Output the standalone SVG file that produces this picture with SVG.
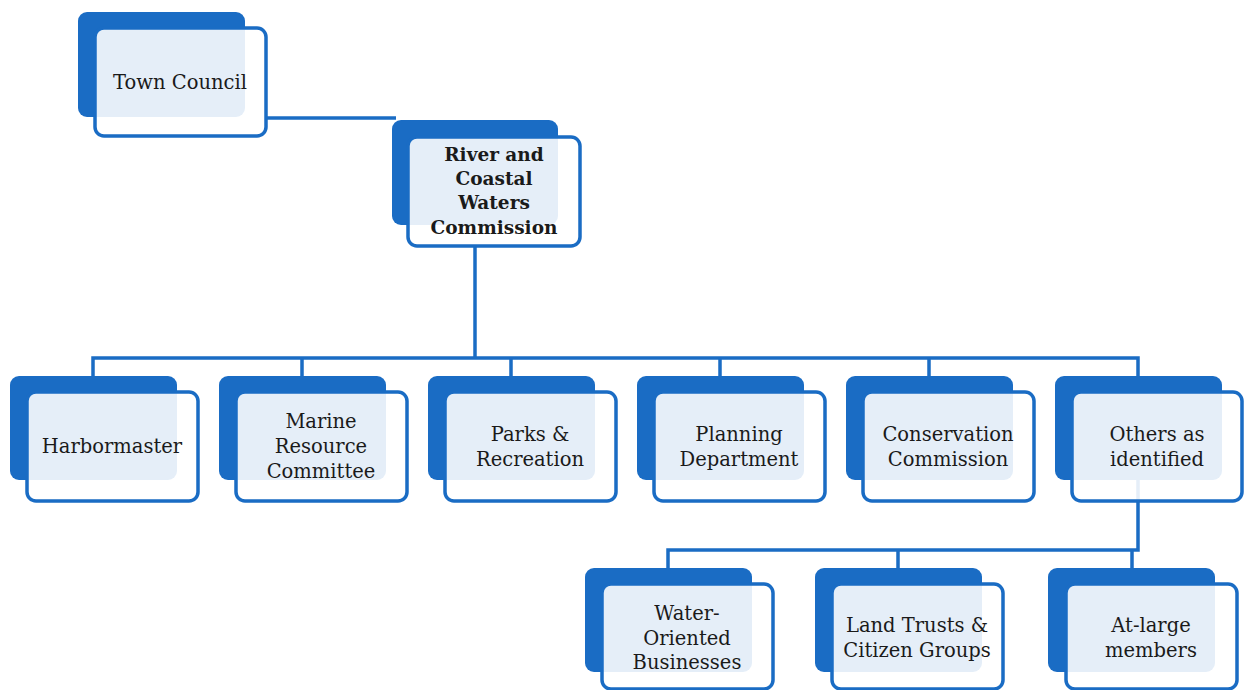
<svg xmlns="http://www.w3.org/2000/svg" width="1244" height="690" viewBox="0 0 1244 690">
<style>
.back{fill:#1a6cc4;}
.front{fill:#ffffff;fill-opacity:0.885;stroke:#1a6cc4;stroke-width:3.5;}
.conn{fill:none;stroke:#1a6cc4;stroke-width:3.5;}
.t{font-family:"DejaVu Serif","Liberation Serif",serif;font-size:19.5px;fill:#1a1a1a;text-anchor:middle;}
.b{font-weight:bold;font-size:18.5px;}
</style>
<rect width="1244" height="690" fill="#ffffff"/>
<g id="connectors">
<path class="conn" d="M266 118 H396"/>
<path class="conn" d="M475 246 V358"/>
<path class="conn" d="M93 376 V358 H1138 V376"/>
<path class="conn" d="M302 358 V376 M511 358 V376 M720 358 V376 M929 358 V376"/>
<path class="conn" d="M1138 478 V550 H668 V568"/>
<path class="conn" d="M898 550 V568 M1132 550 V568"/>
</g>
<g id="town-council">
<rect class="back" x="78" y="12" width="167" height="105" rx="9"/>
<rect class="front" x="95" y="28" width="171" height="108" rx="9"/>
<text class="t" x="180" y="89">Town Council</text>
</g>
<g id="commission">
<rect class="back" x="392" y="120" width="166" height="105" rx="9"/>
<rect class="front" x="408" y="137" width="172" height="109" rx="9"/>
<text class="t b" x="494" y="161">River and</text>
<text class="t b" x="494" y="185">Coastal</text>
<text class="t b" x="494" y="209">Waters</text>
<text class="t b" x="494" y="234">Commission</text>
</g>
<g id="harbormaster">
<rect class="back" x="10" y="376" width="167" height="104" rx="9"/>
<rect class="front" x="27" y="392" width="171" height="109" rx="9"/>
<text class="t" x="112" y="453">Harbormaster</text>
</g>
<g id="marine-resource-committee">
<rect class="back" x="219" y="376" width="167" height="104" rx="9"/>
<rect class="front" x="236" y="392" width="171" height="109" rx="9"/>
<text class="t" x="321" y="428">Marine</text>
<text class="t" x="321" y="453">Resource</text>
<text class="t" x="321" y="478">Committee</text>
</g>
<g id="parks-recreation">
<rect class="back" x="428" y="376" width="167" height="104" rx="9"/>
<rect class="front" x="445" y="392" width="171" height="109" rx="9"/>
<text class="t" x="530" y="441">Parks &amp;</text>
<text class="t" x="530" y="466">Recreation</text>
</g>
<g id="planning-department">
<rect class="back" x="637" y="376" width="167" height="104" rx="9"/>
<rect class="front" x="654" y="392" width="171" height="109" rx="9"/>
<text class="t" x="739" y="441">Planning</text>
<text class="t" x="739" y="466">Department</text>
</g>
<g id="conservation-commission">
<rect class="back" x="846" y="376" width="167" height="104" rx="9"/>
<rect class="front" x="863" y="392" width="171" height="109" rx="9"/>
<text class="t" x="948" y="441">Conservation</text>
<text class="t" x="948" y="466">Commission</text>
</g>
<g id="others-as-identified">
<rect class="back" x="1055" y="376" width="167" height="104" rx="9"/>
<rect class="front" x="1072" y="392" width="170" height="109" rx="9"/>
<text class="t" x="1157" y="441">Others as</text>
<text class="t" x="1157" y="466">identified</text>
</g>
<g id="water-oriented-businesses">
<rect class="back" x="585" y="568" width="167" height="104" rx="9"/>
<rect class="front" x="602" y="584" width="171" height="105" rx="9"/>
<text class="t" x="687" y="620">Water-</text>
<text class="t" x="687" y="645">Oriented</text>
<text class="t" x="687" y="669">Businesses</text>
</g>
<g id="land-trusts-citizen-groups">
<rect class="back" x="815" y="568" width="167" height="104" rx="9"/>
<rect class="front" x="832" y="584" width="171" height="105" rx="9"/>
<text class="t" x="917" y="632">Land Trusts &amp;</text>
<text class="t" x="917" y="657">Citizen Groups</text>
</g>
<g id="at-large-members">
<rect class="back" x="1048" y="568" width="167" height="104" rx="9"/>
<rect class="front" x="1066" y="584" width="171" height="105" rx="9"/>
<text class="t" x="1151" y="632">At-large</text>
<text class="t" x="1151" y="657">members</text>
</g>
</svg>
